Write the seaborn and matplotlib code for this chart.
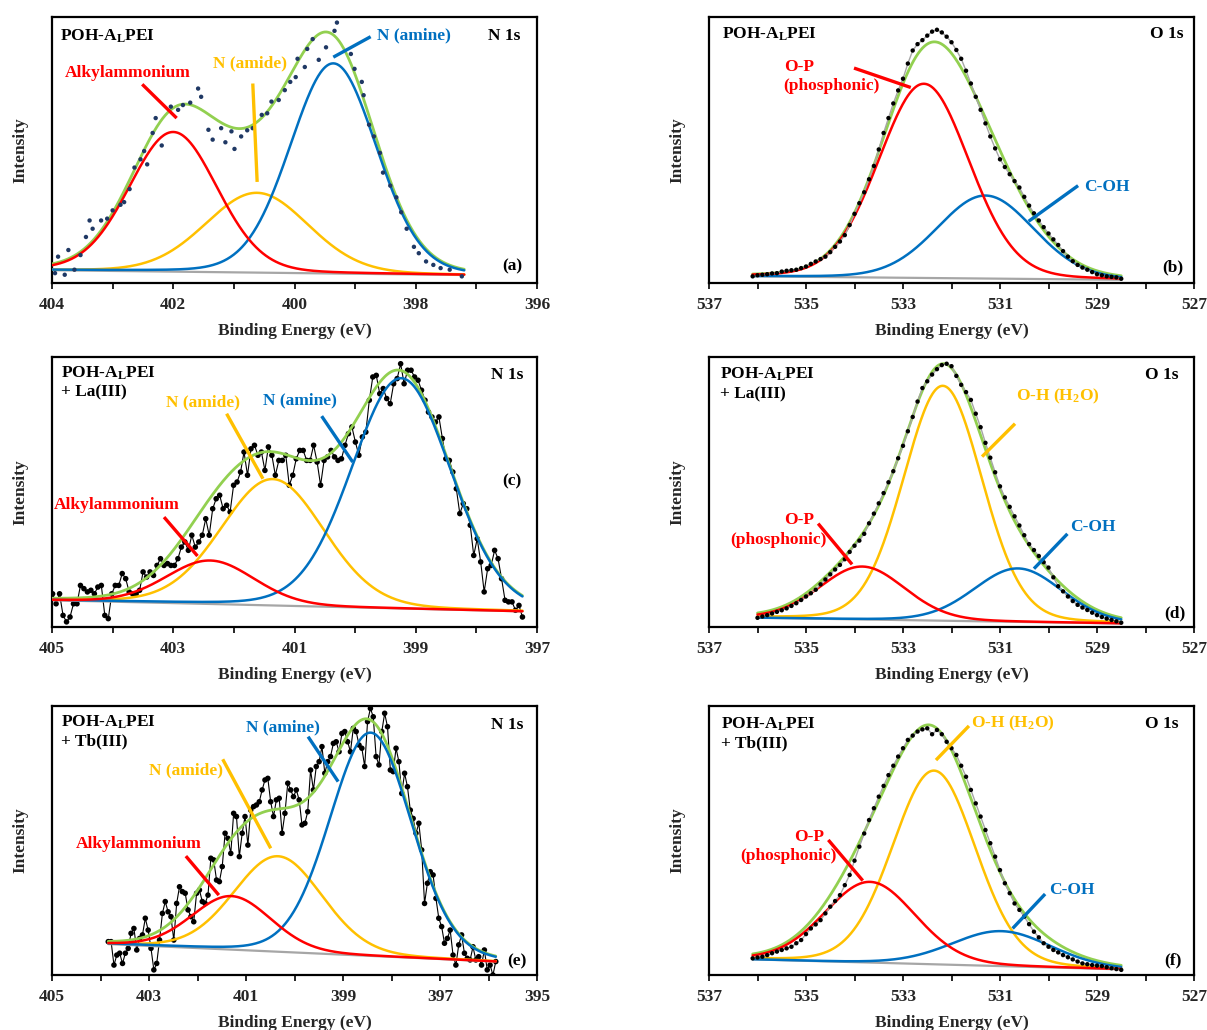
import numpy as np
import seaborn as sns
import matplotlib.pyplot as plt

# colours of the fit components
RED = "#FF0000"
YEL = "#FFC000"
BLU = "#0070C0"
GRN = "#92D050"
GRY = "#A6A6A6"

# ---------------------------------------------------------
# (a) POH-ALPEI, N 1s  (measured points, irregular read-off)
# ---------------------------------------------------------
a_energy = [403.95, 403.90, 403.79, 403.73, 403.63, 403.53, 403.44, 403.38, 403.33, 403.19,
            403.09, 403.00, 402.87, 402.81, 402.72, 402.64, 402.54, 402.48, 402.43, 402.34,
            402.29, 402.19, 402.04, 401.92, 401.84, 401.72, 401.59, 401.54, 401.42, 401.35,
            401.21, 401.14, 401.04, 400.99, 400.88, 400.78, 400.69, 400.54, 400.45, 400.38,
            400.26, 400.16, 400.07, 399.98, 399.95, 399.83, 399.79, 399.70, 399.60, 399.48,
            399.34, 399.30, 399.07, 399.01, 398.89, 398.86, 398.77, 398.69, 398.59, 398.54,
            398.42, 398.32, 398.24, 398.15, 398.03, 397.95, 397.83, 397.71, 397.59, 397.44,
            397.24]
a_counts = [3.7, 9.9, 3.1, 12.4, 5.0, 10.5, 17.3, 23.5, 20.4, 23.5,
            24.2, 27.3, 29.4, 30.4, 35.3, 43.4, 46.5, 49.6, 44.6, 56.4,
            62.0, 51.7, 66.3, 65.1, 66.9, 67.8, 73.1, 70.0, 57.6, 53.9,
            58.2, 52.9, 57.0, 50.4, 55.1, 57.4, 58.2, 63.2, 63.8, 68.2,
            68.8, 72.5, 75.6, 77.4, 84.3, 81.2, 88.0, 91.7, 83.9, 88.6,
            94.8, 97.9, 86.1, 80.5, 75.6, 70.6, 59.5, 55.1, 48.9, 41.5,
            36.6, 32.2, 26.6, 20.4, 13.6, 11.2, 8.1, 6.8, 5.6, 5.0,
            2.5]
a_window = [404.0, 397.2]
a_bg = [4.8, 3.0]
a_centers = [402.00, 400.62, 399.36]
a_heights = [52.5, 30.0, 79.0]
a_fwhm = [1.71, 2.00, 1.68]

# ---------------------------------------------------------
# (b) POH-ALPEI, O 1s  (0.1 eV steps)
# ---------------------------------------------------------
b_window = [536.1, 528.5]
b_counts = [2.5, 2.9, 3.1, 3.3, 3.6, 3.7, 4.3, 4.6, 4.8, 5.0,
            5.6, 6.2, 7.2, 8.1, 9.0, 9.9, 11.6, 13.6, 15.6, 18.0,
            21.8, 26.0, 30.0, 34.1, 39.0, 44.0, 50.2, 56.4, 62.0, 67.5,
            72.4, 76.8, 82.5, 87.4, 89.8, 91.3, 93.0, 94.5, 95.2, 94.2,
            92.6, 90.5, 87.6, 84.3, 79.8, 75.0, 70.0, 65.1, 60.0, 55.1,
            50.6, 46.5, 43.6, 40.9, 38.3, 35.9, 32.4, 29.1, 26.2, 23.5,
            21.0, 18.6, 16.4, 14.3, 12.0, 9.9, 8.2, 6.8, 5.8, 5.0,
            4.1, 3.3, 2.9, 2.5, 2.3, 2.1, 1.6]
b_bg = [2.5, 1.2]
b_centers = [532.57, 531.30]
b_heights = [73.0, 31.2]
b_fwhm = [2.20, 2.35]

# ---------------------------------------------------------
# (c) POH-ALPEI + La(III), N 1s
# ---------------------------------------------------------
c_window = [404.99, 397.24]
c_counts = [12.3, 8.6, 12.3, 4.3, 1.9, 3.7, 8.6, 8.6, 15.4, 14.2,
            13.0, 13.6, 12.3, 14.8, 15.4, 4.3, 3.1, 12.3, 15.4, 15.4,
            19.8, 17.9, 13.0, 12.3, 12.3, 13.6, 20.4, 18.5, 20.4, 19.1,
            22.8, 25.3, 22.8, 23.5, 22.8, 22.8, 25.3, 29.6, 31.5, 28.4,
            34.0, 29.6, 31.5, 34.0, 40.1, 34.0, 43.8, 47.5, 48.8, 43.8,
            45.1, 42.6, 52.5, 53.7, 57.4, 64.8, 56.2, 66.0, 67.3, 63.6,
            64.8, 58.0, 66.7, 63.6, 56.2, 61.7, 61.7, 63.6, 52.5, 56.2,
            62.3, 65.4, 65.4, 61.7, 61.7, 67.3, 61.1, 52.5, 61.7, 63.0,
            65.4, 63.0, 61.7, 62.3, 67.3, 71.6, 74.1, 68.5, 63.6, 70.4,
            72.2, 84.0, 92.6, 93.2, 86.4, 88.3, 84.6, 82.7, 90.1, 92.0,
            97.5, 90.1, 95.1, 95.1, 92.6, 91.4, 87.7, 84.0, 79.6, 77.8,
            75.9, 77.8, 69.8, 62.3, 61.7, 57.4, 51.2, 42.0, 45.7, 43.8,
            37.7, 26.5, 32.7, 24.1, 13.0, 21.6, 22.8, 28.4, 25.3, 17.9,
            9.9, 9.3, 9.3, 6.2, 8.0, 3.7]
c_bg = [9.9, 5.8]
c_centers = [402.39, 401.36, 399.24]
c_heights = [16.1, 46.8, 85.3]
c_fwhm = [1.71, 2.00, 1.93]

# ---------------------------------------------------------
# (d) POH-ALPEI + La(III), O 1s
# ---------------------------------------------------------
d_window = [536.0, 528.5]
d_counts = [3.4, 3.9, 4.4, 5.0, 5.6, 6.2, 6.9, 7.8, 8.8, 10.0,
            11.3, 12.5, 13.8, 15.8, 17.6, 19.5, 21.3, 23.0, 25.1, 27.8,
            30.1, 32.0, 34.5, 38.4, 42.0, 45.8, 49.6, 53.6, 57.7, 62.5,
            67.1, 72.5, 77.8, 83.5, 88.5, 91.0, 93.5, 95.5, 97.0, 97.5,
            96.6, 93.0, 89.7, 87.0, 84.1, 79.0, 74.0, 68.2, 62.7, 57.3,
            52.1, 48.0, 44.5, 41.0, 37.6, 34.0, 30.7, 28.5, 26.3, 24.0,
            22.0, 18.4, 15.1, 13.2, 11.3, 9.6, 8.2, 7.2, 6.3, 5.3,
            4.4, 3.7, 3.1, 2.6, 2.1, 1.6]
d_bg = [3.4, 1.3]
d_centers = [533.84, 532.18, 530.63]
d_heights = [19.6, 87.0, 19.8]
d_fwhm = [2.06, 1.91, 2.13]

# ---------------------------------------------------------
# (e) POH-ALPEI + Tb(III), N 1s
# ---------------------------------------------------------
e_window = [403.84, 395.85]
e_counts = [12.4, 12.4, 3.7, 7.4, 8.1, 4.3, 8.1, 9.9, 15.5, 17.3,
            9.3, 13.6, 14.9, 21.1, 16.7, 9.9, 1.9, 4.3, 13.0, 22.9,
            27.3, 23.5, 21.7, 13.0, 26.6, 32.8, 31.0, 30.4, 24.2, 21.7,
            19.8, 30.4, 31.6, 27.3, 26.6, 29.7, 43.4, 42.8, 35.3, 34.7,
            40.3, 52.7, 50.8, 45.2, 60.1, 58.9, 44.0, 52.7, 58.9, 48.3,
            61.3, 62.6, 63.2, 64.4, 68.8, 72.5, 73.1, 64.4, 58.9, 65.1,
            65.7, 52.7, 60.1, 71.3, 68.8, 66.3, 68.8, 65.1, 55.8, 56.4,
            60.7, 76.2, 68.8, 77.5, 79.3, 84.9, 75.0, 79.3, 81.2, 86.1,
            86.7, 83.0, 89.8, 90.5, 86.7, 83.0, 91.7, 90.5, 85.5, 84.3,
            77.5, 94.2, 99.1, 96.0, 81.2, 78.1, 90.5, 97.3, 92.3, 76.2,
            75.6, 84.3, 79.3, 67.5, 75.0, 70.0, 61.3, 58.2, 52.7, 56.4,
            46.5, 26.6, 34.1, 38.4, 37.2, 28.5, 21.1, 18.0, 11.8, 13.6,
            16.7, 7.4, 3.7, 11.2, 14.9, 8.1, 6.2, 5.6, 10.5, 5.6,
            6.8, 3.7, 9.3, 1.9, 3.7, 0.0, 5.0]
e_bg = [11.5, 5.0]
e_centers = [401.30, 400.34, 398.43]
e_heights = [19.9, 35.5, 83.0]
e_fwhm = [1.92, 2.15, 1.99]

# ---------------------------------------------------------
# (f) POH-ALPEI + Tb(III), O 1s
# ---------------------------------------------------------
f_window = [536.1, 528.5]
f_counts = [6.2, 6.5, 6.8, 7.4, 8.1, 8.7, 9.3, 9.9, 10.5, 11.8,
            13.0, 15.2, 17.3, 18.8, 20.4, 22.9, 25.4, 27.5, 29.7, 33.4,
            37.2, 42.5, 47.7, 52.6, 57.6, 62.0, 66.3, 70.3, 74.3, 77.8,
            81.2, 84.3, 87.4, 89.0, 90.5, 91.3, 91.7, 89.5, 91.1, 89.5,
            86.7, 84.3, 81.8, 77.8, 73.7, 68.8, 63.8, 58.9, 53.9, 49.0,
            44.0, 39.0, 34.1, 30.4, 26.6, 24.2, 21.7, 18.9, 16.1, 14.0,
            11.8, 10.5, 9.3, 8.4, 7.4, 6.6, 5.8, 5.0, 4.3, 4.0,
            3.7, 3.5, 3.3, 2.9, 2.5, 2.2, 1.9]
f_bg = [5.8, 2.1]
f_centers = [533.68, 532.36, 530.97]
f_heights = [30.0, 72.0, 13.0]
f_fwhm = [2.20, 2.02, 2.42]


def component(e, c, h, w, eta=0.1):
    # Gaussian-Lorentzian sum line shape
    g = np.exp(-4 * np.log(2) * ((e - c) / w) ** 2)
    l = 1 / (1 + 4 * ((e - c) / w) ** 2)
    return h * ((1 - eta) * g + eta * l)


sns.set_theme(style="ticks")
plt.rcParams["font.family"] = ["Liberation Serif", "DejaVu Serif"]
plt.rcParams["font.weight"] = "bold"
plt.rcParams["axes.labelweight"] = "bold"
plt.rcParams["mathtext.fontset"] = "custom"
plt.rcParams["mathtext.rm"] = "Liberation Serif:bold"
plt.rcParams["mathtext.bf"] = "Liberation Serif:bold"
plt.rcParams["mathtext.it"] = "Liberation Serif:bold"

fig = plt.figure(figsize=(12.07, 10.30), dpi=100)
W = 485 / 1207
boxes = {
    "a": [52 / 1207, 1 - 283 / 1030, W, 266 / 1030],
    "b": [709 / 1207, 1 - 283 / 1030, W, 266 / 1030],
    "c": [52 / 1207, 1 - 627 / 1030, W, 270 / 1030],
    "d": [709 / 1207, 1 - 627 / 1030, W, 270 / 1030],
    "e": [52 / 1207, 1 - 975 / 1030, W, 269 / 1030],
    "f": [709 / 1207, 1 - 975 / 1030, W, 269 / 1030],
}

FS = 12.5
SAMPLE = "POH-A$_\\mathrm{L}$PEI"


def panel(ax, window, bg, centers, heights, fwhm, colors, xlim, energy, counts, style):
    e = np.linspace(window[0], window[1], 500)
    base = bg[0] + (bg[1] - bg[0]) * (e - window[0]) / (window[1] - window[0])
    comps = [component(e, c, h, w) for c, h, w in zip(centers, heights, fwhm)]
    env = base + np.sum(comps, axis=0)

    if style == "nav":
        sns.scatterplot(x=energy, y=counts, ax=ax, color="#1F3864", s=10,
                        edgecolor="none", zorder=7)
    elif style == "noisy":
        sns.lineplot(x=energy, y=counts, ax=ax, color="black", linewidth=0.8,
                     sort=False, estimator=None, zorder=1)
        sns.scatterplot(x=energy, y=counts, ax=ax, color="black", s=16,
                        edgecolor="none", zorder=1)
    else:
        sns.lineplot(x=energy, y=counts, ax=ax, color=GRY, linewidth=1.0,
                     sort=False, estimator=None, zorder=7)
        sns.scatterplot(x=energy, y=counts, ax=ax, color="black", s=10,
                        edgecolor="none", zorder=7)

    sns.lineplot(x=e, y=base, ax=ax, color=GRY, linewidth=1.6, sort=False, estimator=None, zorder=2)
    sns.lineplot(x=e, y=env, ax=ax, color=GRN, linewidth=2.0, sort=False, estimator=None, zorder=3)
    order = {YEL: 4, BLU: 5, RED: 6}
    for comp, col in zip(comps, colors):
        sns.lineplot(x=e, y=base + comp, ax=ax, color=col, linewidth=1.8,
                     sort=False, estimator=None, zorder=order[col])

    ax.set_xlim(xlim[0], xlim[1])
    ax.set_ylim(0, 100)
    ax.set_yticks([])
    ax.set_xticks(np.arange(xlim[1], xlim[0] + 0.5, 2))
    ax.set_xticks(np.arange(xlim[1], xlim[0] + 0.5, 1), minor=True)
    ax.tick_params(axis="x", which="both", direction="out", length=4, width=1.4,
                   labelsize=FS, pad=6, top=False)
    for s in ax.spines.values():
        s.set_visible(True)
        s.set_linewidth(1.6)
        s.set_color("black")
    ax.set_xlabel("Binding Energy (eV)", fontsize=FS, labelpad=7)
    ax.set_ylabel("Intensity", fontsize=FS, labelpad=17)


def txt(ax, x, y, s, color="black", ha="left"):
    ax.text(x, y, s, transform=ax.transAxes, color=color, fontsize=FS,
            fontweight="bold", ha=ha, va="center", zorder=10)


def lead(ax, x1, y1, x2, y2, color):
    ax.plot([x1, x2], [y1, y2], transform=ax.transAxes, color=color,
            linewidth=2.4, solid_capstyle="butt", zorder=10)


# (a)
ax = fig.add_axes(boxes["a"])
panel(ax, a_window, a_bg, a_centers, a_heights, a_fwhm, [RED, YEL, BLU],
      (404, 396), a_energy, a_counts, "nav")
txt(ax, 0.016, 0.929, SAMPLE)
txt(ax, 0.965, 0.929, "N 1s", ha="right")
txt(ax, 0.97, 0.062, "(a)", ha="right")
txt(ax, 0.156, 0.789, "Alkylammonium", RED, "center")
lead(ax, 0.186, 0.747, 0.257, 0.620, RED)
txt(ax, 0.408, 0.824, "N (amide)", YEL, "center")
lead(ax, 0.414, 0.750, 0.423, 0.380, YEL)
txt(ax, 0.746, 0.929, "N (amine)", BLU, "center")
lead(ax, 0.657, 0.926, 0.580, 0.849, BLU)

# (b)
ax = fig.add_axes(boxes["b"])
b_energy = np.linspace(b_window[0], b_window[1], len(b_counts))
panel(ax, b_window, b_bg, b_centers, b_heights, b_fwhm, [RED, BLU],
      (537, 527), b_energy, b_counts, "dense")
txt(ax, 0.027, 0.936, SAMPLE)
txt(ax, 0.978, 0.936, "O 1s", ha="right")
txt(ax, 0.978, 0.058, "(b)", ha="right")
txt(ax, 0.154, 0.812, "O-P", RED)
txt(ax, 0.154, 0.740, "(phosphonic)", RED)
lead(ax, 0.299, 0.808, 0.416, 0.735, RED)
txt(ax, 0.774, 0.362, "C-OH", BLU)
lead(ax, 0.761, 0.366, 0.659, 0.232, BLU)

# (c)
ax = fig.add_axes(boxes["c"])
c_energy = np.linspace(c_window[0], c_window[1], len(c_counts))
panel(ax, c_window, c_bg, c_centers, c_heights, c_fwhm, [RED, YEL, BLU],
      (405, 397), c_energy, c_counts, "noisy")
txt(ax, 0.018, 0.938, SAMPLE)
txt(ax, 0.018, 0.868, "+ La(III)")
txt(ax, 0.971, 0.932, "N 1s", ha="right")
txt(ax, 0.968, 0.540, "(c)", ha="right")
txt(ax, 0.134, 0.453, "Alkylammonium", RED, "center")
lead(ax, 0.231, 0.407, 0.300, 0.263, RED)
txt(ax, 0.311, 0.833, "N (amide)", YEL, "center")
lead(ax, 0.360, 0.790, 0.435, 0.549, YEL)
txt(ax, 0.512, 0.840, "N (amine)", BLU, "center")
lead(ax, 0.556, 0.781, 0.620, 0.611, BLU)

# (d)
ax = fig.add_axes(boxes["d"])
d_energy = np.linspace(d_window[0], d_window[1], len(d_counts))
panel(ax, d_window, d_bg, d_centers, d_heights, d_fwhm, [RED, YEL, BLU],
      (537, 527), d_energy, d_counts, "dense")
txt(ax, 0.023, 0.935, SAMPLE)
txt(ax, 0.023, 0.862, "+ La(III)")
txt(ax, 0.968, 0.935, "O 1s", ha="right")
txt(ax, 0.982, 0.050, "(d)", ha="right")
txt(ax, 0.720, 0.853, "O-H (H$_\\mathrm{2}$O)", YEL, "center")
lead(ax, 0.631, 0.753, 0.563, 0.631, YEL)
txt(ax, 0.185, 0.395, "O-P", RED, "center")
txt(ax, 0.143, 0.322, "(phosphonic)", RED, "center")
lead(ax, 0.225, 0.383, 0.295, 0.232, RED)
txt(ax, 0.791, 0.370, "C-OH", BLU, "center")
lead(ax, 0.739, 0.345, 0.670, 0.216, BLU)

# (e)
ax = fig.add_axes(boxes["e"])
e_energy = np.linspace(e_window[0], e_window[1], len(e_counts))
panel(ax, e_window, e_bg, e_centers, e_heights, e_fwhm, [RED, YEL, BLU],
      (405, 395), e_energy, e_counts, "noisy")
txt(ax, 0.018, 0.939, SAMPLE)
txt(ax, 0.018, 0.867, "+ Tb(III)")
txt(ax, 0.972, 0.929, "N 1s", ha="right")
txt(ax, 0.978, 0.050, "(e)", ha="right")
txt(ax, 0.477, 0.921, "N (amine)", BLU, "center")
lead(ax, 0.528, 0.886, 0.590, 0.719, BLU)
txt(ax, 0.276, 0.760, "N (amide)", YEL, "center")
lead(ax, 0.352, 0.802, 0.451, 0.471, YEL)
txt(ax, 0.178, 0.487, "Alkylammonium", RED, "center")
lead(ax, 0.276, 0.442, 0.344, 0.297, RED)

# (f)
ax = fig.add_axes(boxes["f"])
f_energy = np.linspace(f_window[0], f_window[1], len(f_counts))
panel(ax, f_window, f_bg, f_centers, f_heights, f_fwhm, [RED, YEL, BLU],
      (537, 527), f_energy, f_counts, "dense")
txt(ax, 0.025, 0.933, SAMPLE)
txt(ax, 0.025, 0.861, "+ Tb(III)")
txt(ax, 0.968, 0.933, "O 1s", ha="right")
txt(ax, 0.974, 0.053, "(f)", ha="right")
txt(ax, 0.626, 0.936, "O-H (H$_\\mathrm{2}$O)", YEL, "center")
lead(ax, 0.536, 0.926, 0.468, 0.799, YEL)
txt(ax, 0.206, 0.514, "O-P", RED, "center")
txt(ax, 0.163, 0.444, "(phosphonic)", RED, "center")
lead(ax, 0.246, 0.502, 0.317, 0.351, RED)
txt(ax, 0.749, 0.316, "C-OH", BLU, "center")
lead(ax, 0.693, 0.301, 0.626, 0.173, BLU)

fig.savefig("out.png", dpi=100)
